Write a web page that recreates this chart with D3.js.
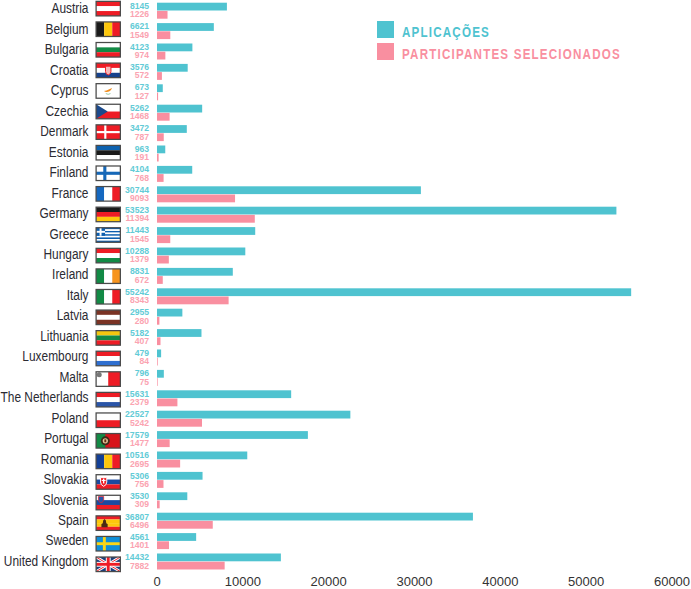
<!DOCTYPE html>
<html><head><meta charset="utf-8">
<script src="https://cdn.jsdelivr.net/npm/d3@7/dist/d3.min.js"></script>
<style>html,body{margin:0;padding:0;background:#fff}svg{display:block}</style>
</head><body><svg id="chart" width="691" height="589"></svg>
<script>
const countries=["Austria","Belgium","Bulgaria","Croatia","Cyprus","Czechia","Denmark","Estonia","Finland","France","Germany","Greece","Hungary","Ireland","Italy","Latvia","Lithuania","Luxembourg","Malta","The Netherlands","Poland","Portugal","Romania","Slovakia","Slovenia","Spain","Sweden","United Kingdom"];
const applications=[8145,6621,4123,3576,673,5262,3472,963,4104,30744,53523,11443,10288,8831,55242,2955,5182,479,796,15631,22527,17579,10516,5306,3530,36807,4561,14432];
const selected=[1226,1549,974,572,127,1468,787,191,768,9093,11394,1545,1379,672,8343,280,407,84,75,2379,5242,1477,2695,756,309,6496,1401,7882];
const ticks=[0,10000,20000,30000,40000,50000,60000];
const legendLabels=["APLICAÇÕES","PARTICIPANTES SELECIONADOS"];
const R="#ee1c25",W="#ffffff",G="#128a45",Y="#fdc70c",K="#1a1a1a",TEAL="#4fc3d0",PINK="#f98fa0";
const hStripes={Austria:[R,W,R],Bulgaria:[W,G,R],Croatia:[R,W,"#17428c"],Estonia:["#0d62b0",K,W],Germany:[K,R,Y],Hungary:[R,W,G],Latvia:["#7a3324",W,"#7a3324"],Lithuania:["#f4c70f",G,R],Luxembourg:[R,W,"#2f6fd0"],"The Netherlands":[R,W,"#2a55a8"],Poland:[W,R],Slovakia:[W,"#1b4aa0",R],Slovenia:[W,"#1b4aa0",R]};
const vStripes={Belgium:[K,Y,R],France:["#1568c0",W,R],Ireland:[G,W,"#f7941e"],Italy:[G,W,R],Romania:["#123f96",Y,R]};

const svg=d3.select("#chart");
const x=d3.scaleLinear().domain([0,60000]).range([157,672]);
const y=d3.scaleBand().domain(countries).range([2.7,573.9]);      // bars
const yLabel=d3.scaleBand().domain(countries).range([8.3,581.2]); // country names
const yNum=d3.scaleBand().domain(countries).range([5.7,577.8]);   // value labels
const yFlag=d3.scaleBand().domain(countries).range([1.35,577.6]); // flags

const barH=7.8;
svg.selectAll("rect.app").data(countries).join("rect").attr("class","app")
  .attr("x",x(0)).attr("y",d=>y(d)).attr("height",barH).attr("fill",TEAL)
  .attr("width",(d,i)=>x(applications[i])-x(0));
svg.selectAll("rect.sel").data(countries).join("rect").attr("class","sel")
  .attr("x",x(0)).attr("y",d=>y(d)+8.2).attr("height",barH).attr("fill",PINK)
  .attr("width",(d,i)=>x(selected[i])-x(0));
svg.selectAll("text.name").data(countries).join("text").attr("class","name")
  .attr("transform",d=>`translate(88.5,${yLabel(d)}) scale(0.805,1)`).attr("dy","0.35em").attr("text-anchor","end")
  .attr("font-family","'Liberation Sans'").attr("font-size",14.8).attr("fill","#2b2b33").text(d=>d);
svg.selectAll("text.nA").data(countries).join("text").attr("class","nA")
  .attr("x",149).attr("y",d=>yNum(d)).attr("dy","0.35em").attr("text-anchor","end")
  .attr("font-family","'Liberation Sans'").attr("font-weight","bold").attr("font-size",8.6).attr("fill","#62cbd6")
  .text((d,i)=>applications[i]);
svg.selectAll("text.nS").data(countries).join("text").attr("class","nS")
  .attr("x",149).attr("y",d=>yNum(d)+8.4).attr("dy","0.35em").attr("text-anchor","end")
  .attr("font-family","'Liberation Sans'").attr("font-weight","bold").attr("font-size",8.6).attr("fill","#fba3b1")
  .text((d,i)=>selected[i]);

// flags, drawn in a 25x15 box
const FW=25,FH=15;
function band(g,colors,horizontal){
  const s=d3.scaleBand().domain(d3.range(colors.length)).range([0,horizontal?FH:FW]);
  g.selectAll(null).data(colors).join("rect")
   .attr("x",(d,i)=>horizontal?0:s(i)).attr("y",(d,i)=>horizontal?s(i):0)
   .attr("width",horizontal?FW:s.bandwidth()).attr("height",horizontal?s.bandwidth():FH).attr("fill",d=>d);
}
function r(g,a,b,w,h,f){g.append("rect").attr("x",a).attr("y",b).attr("width",w).attr("height",h).attr("fill",f);}
function cross(g,col,cx,w){r(g,0,7.5-w/2,FW,w,col);r(g,cx-w/2,0,w,FH,col);}
const extras={
  Croatia:g=>{g.append("path").attr("d","M9.7,3.2h5.6v5.5q0,2.6,-2.8,3.6q-2.8,-1,-2.8,-3.6z").attr("fill","#f4b8b8").attr("stroke",R).attr("stroke-width",1);},
  Cyprus:g=>{r(g,0,0,FW,FH,W);g.append("path").attr("d","M8,7.6q3,-.3,5,-1.6l3.5,-1.5q-1,2.2,-2.6,3.4q-2.5,1.2,-3.8,.6z").attr("fill","#f08c1e");
    g.append("path").attr("d","M10,10.2q2.4,1.6,4.8,0").attr("fill","none").attr("stroke","#7fb98f").attr("stroke-width",.8);},
  Czechia:g=>{band(g,[W,R],true);g.append("path").attr("d",`M0,0L12,7.5L0,15z`).attr("fill","#1c4a8c");},
  Denmark:g=>{r(g,0,0,FW,FH,R);cross(g,W,9.5,2.2);},
  Finland:g=>{r(g,0,0,FW,FH,W);cross(g,"#1668b8",9,3.2);},
  Greece:g=>{band(g,["#0d5eaf",W,"#0d5eaf",W,"#0d5eaf",W,"#0d5eaf",W,"#0d5eaf"],true);r(g,0,0,9.2,8.3,"#0d5eaf");r(g,3.6,0,2,8.3,W);r(g,0,3.2,9.2,2,W);},
  Malta:g=>{band(g,[W,R],false);g.append("circle").attr("cx",3.2).attr("cy",3).attr("r",2.6).attr("fill","#777");},
  Portugal:g=>{r(g,0,0,FW,FH,"#d7141a");r(g,0,0,9.5,FH,"#128a45");g.append("circle").attr("cx",9.5).attr("cy",7.5).attr("r",4.6).attr("fill","#3d2a18");g.append("circle").attr("cx",9.5).attr("cy",7.5).attr("r",2.7).attr("fill","#e9c79a");r(g,8.5,6,2,3,"#5b2e12");},
  Slovakia:g=>{g.append("path").attr("d","M4.6,3h6.4v4.6q0,3,-3.2,4.4q-3.2,-1.4,-3.2,-4.4z").attr("fill",R).attr("stroke",W).attr("stroke-width",1);r(g,7.1,4,1.4,5,W);r(g,5.8,5.4,4,1.1,W);},
  Slovenia:g=>{g.append("path").attr("d","M2.4,1.2h5.4v3.6q0,2.1,-2.7,3.1q-2.7,-1,-2.7,-3.1z").attr("fill","#2855a8").attr("stroke",R).attr("stroke-width",.7);},
  Spain:g=>{band(g,[R,Y,Y,R],true);g.append("path").attr("d","M5.5,11.8v-3.4l1.4,-.8l.4,-2.8l1.4,-1.6l1.4,1.6l.4,2.8l1.4,.8v3.4z").attr("fill","#4a2a14");},
  Sweden:g=>{r(g,0,0,FW,FH,"#0f8fd8");cross(g,"#f9d616",8.5,3);},
  "United Kingdom":g=>{r(g,0,0,FW,FH,"#1c3f7c");
    g.append("path").attr("d",`M0,0L${FW},${FH}M${FW},0L0,${FH}`).attr("stroke",W).attr("stroke-width",2.8);
    g.append("path").attr("d",`M0,0L${FW},${FH}M${FW},0L0,${FH}`).attr("stroke",R).attr("stroke-width",1);
    r(g,0,5,FW,5,W);r(g,10,0,5,FH,W);r(g,0,6,FW,3,R);r(g,11,0,3,FH,R);}
};
svg.selectAll("g.flag").data(countries).join("g").attr("class","flag")
  .attr("transform",d=>`translate(96.1,${yFlag(d)}) scale(0.97)`)
  .each(function(d){
    const g=d3.select(this);
    if(hStripes[d])band(g,hStripes[d],true);
    if(vStripes[d])band(g,vStripes[d],false);
    if(extras[d])extras[d](g);
    g.append("rect").attr("x",0).attr("y",0).attr("width",FW).attr("height",FH)
      .attr("fill","none").attr("stroke","#4a4a4a").attr("stroke-width",1.3);
  });

// axis
svg.selectAll("text.tick").data(ticks).join("text").attr("class","tick")
  .attr("x",d=>x(d)).attr("y",586).attr("text-anchor","middle")
  .attr("font-family","'Liberation Sans'").attr("font-size",13).attr("fill","#333").text(d=>d);

// legend
const leg=d3.scaleBand().domain(legendLabels).range([21,65]);
const lg=svg.selectAll("g.leg").data(legendLabels).join("g").attr("class","leg")
  .attr("transform",d=>`translate(377,${leg(d)})`);
lg.append("rect").attr("width",17).attr("height",17).attr("fill",(d,i)=>i?PINK:TEAL);
lg.append("text").attr("transform","translate(25,11) scale(0.8,1)").attr("dy","0.35em")
  .attr("font-family","'Liberation Sans'").attr("font-weight","bold").attr("font-size",14.5)
  .attr("letter-spacing",1.5).attr("fill",(d,i)=>i?PINK:TEAL).text(d=>d);
</script></body></html>
